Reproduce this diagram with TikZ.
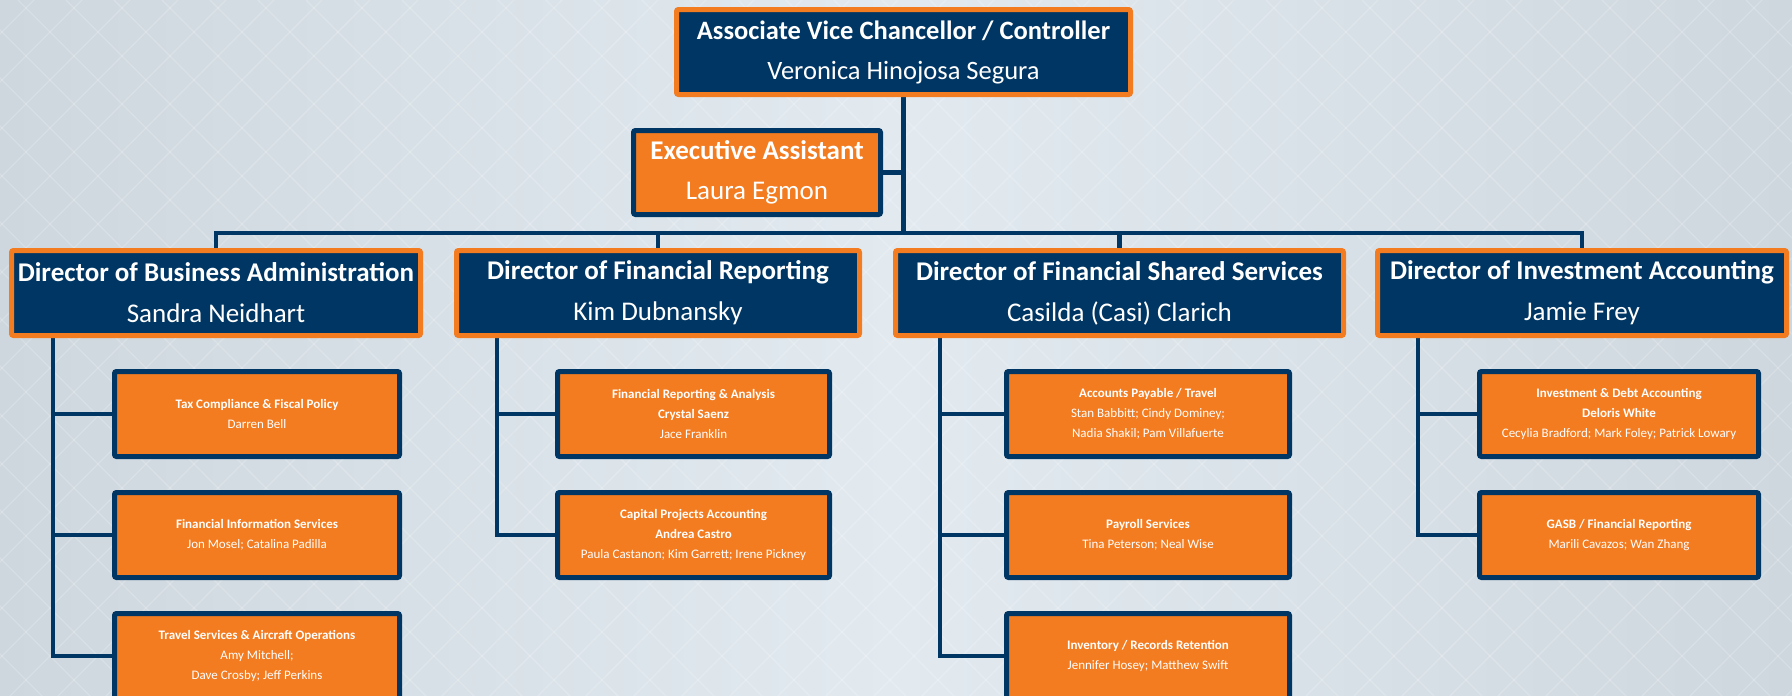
\documentclass[tikz,border=0pt]{standalone}
\usepackage{fontspec}
\setmainfont{Carlito}
\usetikzlibrary{positioning}
\definecolor{navy}{RGB}{0,54,99}
\definecolor{tangerine}{RGB}{243,123,32}
\definecolor{bgside}{RGB}{206,215,222}
\definecolor{bgmid}{RGB}{226,234,240}
\pgfdeclarelayer{bg}
\pgfsetlayers{bg,main}

\begin{document}
\begin{tikzpicture}[x=1pt,y=-1pt,node distance=121pt,
    head node/.style={rectangle,fill=navy,draw=tangerine,line width=5pt,rounded corners=2pt,text=white,align=center,inner sep=0pt,outer sep=0pt,minimum height=85pt},
    top node/.style={head node,font=\fontsize{26.5}{40}\selectfont},
    director node/.style={head node,font=\fontsize{27}{41}\selectfont},
    assist node/.style={head node,fill=tangerine,draw=navy,minimum height=84pt,font=\fontsize{27}{40}\selectfont},
    unit node/.style={head node,fill=tangerine,draw=navy,font=\fontsize{13}{20}\selectfont},
    link/.style={draw=navy,line width=4.5pt},
    lattice/.style={white,opacity=0.2,line width=1.2pt}]
  \useasboundingbox (0,0) rectangle (1792,696);
  \clip (0,0) rectangle (1792,696);

  % top of the chart
  \node[top node,minimum width=454pt] (avc) at (903.5,52) {\textbf{Associate Vice Chancellor / Controller}\\Veronica Hinojosa Segura};
  \node[assist node,minimum width=247pt] (ea) at (757,172.5) {\textbf{Executive Assistant}\\Laura Egmon};

  % directors
  \node[director node,minimum width=409pt] (ba) at (216,293) {\textbf{Director of Business Administration}\\Sandra Neidhart};
  \node[director node,minimum width=403pt] (fr) at (658,293) {\textbf{Director of Financial Reporting}\\Kim Dubnansky};
  \node[director node,minimum width=448pt] (fs) at (1119.5,293) {\textbf{Director of Financial Shared Services}\\Casilda (Casi) Clarich};
  \node[director node,minimum width=409pt] (ia) at (1582,293) {\textbf{Director of Investment Accounting}\\Jamie Frey};

  % units
  \node[unit node,minimum width=285pt] (tax) at (257,414) {\textbf{Tax Compliance \& Fiscal Policy}\\Darren Bell};
  \node[unit node,minimum width=285pt] (fis) [below of=tax] {\textbf{Financial Information Services}\\Jon Mosel; Catalina Padilla};
  \node[unit node,minimum width=285pt] (trv) [below of=fis] {\textbf{Travel Services \& Aircraft Operations}\\Amy Mitchell;\\Dave Crosby; Jeff Perkins};

  \node[unit node,minimum width=272pt] (fra) at (693.5,414) {\textbf{Financial Reporting \& Analysis}\\\textbf{Crystal Saenz}\\Jace Franklin};
  \node[unit node,minimum width=272pt] (cpa) [below of=fra] {\textbf{Capital Projects Accounting}\\\textbf{Andrea Castro}\\Paula Castanon; Kim Garrett; Irene Pickney};

  \node[unit node,minimum width=283pt] (ap) at (1148,414) {\textbf{Accounts Payable / Travel}\\Stan Babbitt; Cindy Dominey;\\Nadia Shakil; Pam Villafuerte};
  \node[unit node,minimum width=283pt] (pay) [below of=ap] {\textbf{Payroll Services}\\Tina Peterson; Neal Wise};
  \node[unit node,minimum width=283pt] (inv) [below of=pay] {\textbf{Inventory / Records Retention}\\Jennifer Hosey; Matthew Swift};

  \node[unit node,minimum width=279pt] (ida) at (1619,414) {\textbf{Investment \& Debt Accounting}\\\textbf{Deloris White}\\Cecylia Bradford; Mark Foley; Patrick Lowary};
  \node[unit node,minimum width=279pt] (gasb) [below of=ida] {\textbf{GASB / Financial Reporting}\\Marili Cavazos; Wan Zhang};

  \coordinate (bus) at (903.5,233);
  \coordinate (ba stem) at (53,338);
  \coordinate (fr stem) at (497,338);
  \coordinate (fs stem) at (940,338);
  \coordinate (ia stem) at (1418,338);

  \begin{pgfonlayer}{bg}
    % backdrop
    \shade[left color=bgside,right color=bgside,middle color=bgmid] (0,0) rectangle (1792,696);
    \foreach \k in {-15,...,52} {
      \draw[lattice] (48*\k+18,0) -- ++(696,696);
      \draw[lattice] (48*\k+34,0) -- ++(-696,696);
    }
    % connectors
    \draw[link] (avc.south) -- (bus);
    \draw[link] (ea.east) -- (ea.east -| avc.south);
    \draw[link] (ba.north) |- (bus) -| (ia.north);
    \draw[link] (fr.north) -- (fr.north |- bus);
    \draw[link] (fs.north) -- (fs.north |- bus);
    \foreach \u in {tax,fis,trv} \draw[link] (ba stem) |- (\u.west);
    \foreach \u in {fra,cpa} \draw[link] (fr stem) |- (\u.west);
    \foreach \u in {ap,pay,inv} \draw[link] (fs stem) |- (\u.west);
    \foreach \u in {ida,gasb} \draw[link] (ia stem) |- (\u.west);
  \end{pgfonlayer}
\end{tikzpicture}
\end{document}
